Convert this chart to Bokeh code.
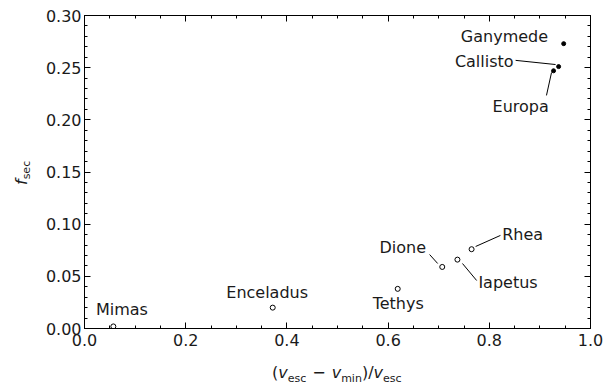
import numpy as np
from bokeh.plotting import figure
from bokeh.models import ColumnDataSource, LinearAxis, FixedTicker, PrintfTickFormatter, Div
from bokeh.layouts import row, column
from bokeh.embed import file_html
from bokeh.resources import INLINE
from bokeh.core.properties import value

# ---------------- data ----------------
moons = ["Mimas", "Enceladus", "Tethys", "Dione", "Iapetus", "Rhea", "Europa", "Callisto", "Ganymede"]
vesc_frac = [0.057, 0.372, 0.619, 0.707, 0.737, 0.765, 0.927, 0.937, 0.947]
f_sec = [0.002, 0.020, 0.038, 0.059, 0.066, 0.076, 0.247, 0.251, 0.273]
saturnian = [True, True, True, True, True, True, False, False, False]

# label anchor (data coords)
label_x = [0.074, 0.361, 0.620, 0.629, 0.837, 0.866, 0.862, 0.790, 0.830]
label_y = [0.018, 0.0345, 0.024, 0.0777, 0.0441, 0.090, 0.213, 0.256, 0.280]

# leader lines (data coords)
leader_x0 = [0.682, 0.747, 0.773, 0.913, 0.852]
leader_y0 = [0.0709, 0.0623, 0.0786, 0.2234, 0.257]
leader_x1 = [0.698, 0.775, 0.822, 0.923, 0.931]
leader_y1 = [0.0623, 0.0460, 0.0892, 0.2454, 0.253]

x_major = [0.0, 0.2, 0.4, 0.6, 0.8, 1.0]
x_minor = [round(0.05 * i, 2) for i in range(21)]
y_major = [round(0.05 * i, 2) for i in range(7)]
y_minor = [round(0.01 * i, 2) for i in range(31)]

FONT = "DejaVu Sans"
TXT = "#1a1a1a"
YT_W = 30

p = figure(width=605 - YT_W, height=355, x_range=(0, 1), y_range=(0, 0.30),
           output_backend="svg", toolbar_location=None,
           min_border_left=84 - YT_W, min_border_right=15, min_border_top=15, min_border_bottom=27)
p.grid.visible = False
p.outline_line_color = "black"
p.outline_line_width = 1
p.background_fill_color = "white"
p.border_fill_color = "white"

def style_axis(ax, ticker, fmt, show_labels, standoff):
    ax.ticker = ticker
    ax.formatter = PrintfTickFormatter(format=fmt)
    ax.major_tick_in = 6
    ax.major_tick_out = 0
    ax.minor_tick_in = 3
    ax.minor_tick_out = 0
    ax.major_tick_line_color = "black"
    ax.minor_tick_line_color = "black"
    ax.axis_line_color = None
    ax.major_label_text_font = FONT
    ax.major_label_standoff = standoff
    if show_labels:
        ax.major_label_text_color = TXT
        ax.major_label_text_font_size = "16px"
    else:
        ax.major_label_text_color = None
        ax.major_label_text_font_size = "1px"

style_axis(p.xaxis[0], FixedTicker(ticks=x_major, minor_ticks=x_minor), "%.1f", True, 5)
style_axis(p.yaxis[0], FixedTicker(ticks=y_major, minor_ticks=y_minor), "%.2f", True, 3)

top = LinearAxis()
style_axis(top, FixedTicker(ticks=x_major, minor_ticks=x_minor), "%.1f", False, 0)
p.add_layout(top, "above")
right = LinearAxis()
style_axis(right, FixedTicker(ticks=y_major, minor_ticks=y_minor), "%.2f", False, 0)
p.add_layout(right, "right")

# markers
open_src = ColumnDataSource(dict(
    x=[v for v, s in zip(vesc_frac, saturnian) if s],
    y=[v for v, s in zip(f_sec, saturnian) if s]))
fill_src = ColumnDataSource(dict(
    x=[v for v, s in zip(vesc_frac, saturnian) if not s],
    y=[v for v, s in zip(f_sec, saturnian) if not s]))
p.scatter("x", "y", source=open_src, marker="circle", size=5,
          fill_color=None, line_color="black", line_width=1)
p.scatter("x", "y", source=fill_src, marker="circle", size=4,
          fill_color="black", line_color="black", line_width=1)

# leader lines
p.segment(x0=leader_x0, y0=leader_y0, x1=leader_x1, y1=leader_y1,
          line_color="black", line_width=1)

# moon labels
lab_src = ColumnDataSource(dict(x=label_x, y=label_y, name=moons))
p.text("x", "y", text="name", source=lab_src, text_font=value(FONT),
       text_font_size=value("16px"), text_align="center", text_baseline="middle",
       text_color=TXT)

# --------- axis titles as HTML text ---------
SUB = "font-size:11px;position:relative;top:3.5px"
base_css = (f"font-family:'{FONT}';font-size:16px;line-height:16px;color:{TXT};"
            "white-space:nowrap;margin:0;")

x_title_html = (
    f"<div style=\"{base_css}padding-left:{272 - YT_W}px;padding-top:10px\">"
    f"(<i>v</i><span style=\"{SUB}\">esc</span>"
    f"<span style=\"margin:0 6px\">&minus;</span>"
    f"<i>v</i><span style=\"{SUB}\">min</span>)/"
    f"<i>v</i><span style=\"{SUB}\">esc</span></div>"
)
y_title_html = (
    f"<div style=\"margin:0;padding-left:13.5px;padding-top:185px\">"
    f"<div style=\"{base_css}transform:rotate(-90deg);transform-origin:0 0;width:max-content\">"
    f"<i>f</i><span style=\"font-size:11px;position:relative;top:3px\">sec</span></div></div>"
)

xdiv = Div(text=x_title_html, width=605 - YT_W, height=28, margin=0)
ydiv = Div(text=y_title_html, width=YT_W, height=383, margin=0)

layout = row(ydiv, column(p, xdiv, spacing=0), spacing=0)

open("out.html", "w").write(file_html(layout, INLINE))
